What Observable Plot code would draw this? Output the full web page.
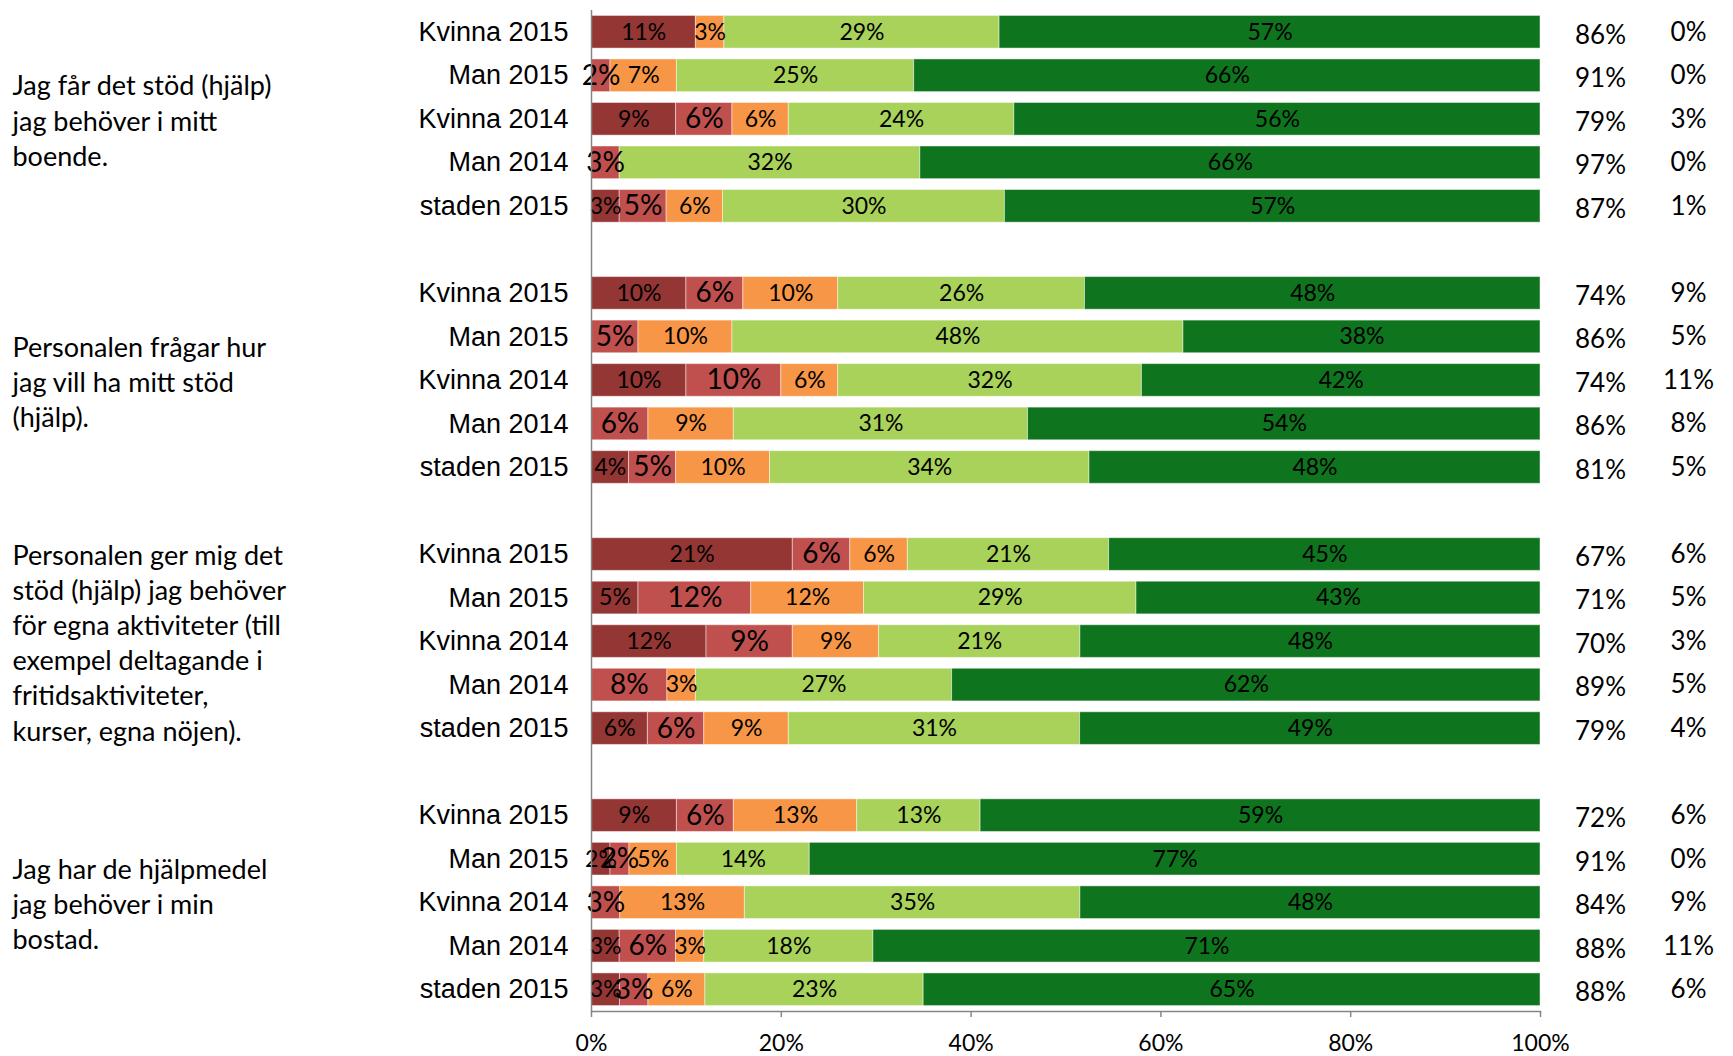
<!DOCTYPE html>
<html><head><meta charset="utf-8">
<script src="https://cdn.jsdelivr.net/npm/d3@7"></script>
<script src="https://cdn.jsdelivr.net/npm/@observablehq/plot@0.6"></script>
<style>body{margin:0;background:#fff}</style>
</head><body><div id="chart"></div>
<script>
const questions = [
  "Jag får det stöd (hjälp)\njag behöver i mitt\nboende.",
  "Personalen frågar hur\njag vill ha mitt stöd\n(hjälp).",
  "Personalen ger mig det\nstöd (hjälp) jag behöver\nför egna aktiviteter (till\nexempel deltagande i\nfritidsaktiviteter,\nkurser, egna nöjen).",
  "Jag har de hjälpmedel\njag behöver i min\nbostad."
];
const respondents = ["Kvinna 2015", "Man 2015", "Kvinna 2014", "Man 2014", "staden 2015"];
const seriesNames = ["Aldrig", "Sällan", "Ibland", "Oftast", "Alltid"];
const seriesColors = ["#943634", "#C0504D", "#F79646", "#A8D25A", "#0F741E"];

// values per row, in order group by group (5 rows each)
const aldrig = [11, 0, 9, 0, 3,   10, 0, 10, 0, 4,    21, 5, 12, 0, 6,   9, 2, 0, 3, 3];
const sallan = [0, 2, 6, 3, 5,    6, 5, 10, 6, 5,     6, 12, 9, 8, 6,    6, 2, 3, 6, 3];
const ibland = [3, 7, 6, 0, 6,    10, 10, 6, 9, 10,   6, 12, 9, 3, 9,    13, 5, 13, 3, 6];
const oftast = [29, 25, 24, 32, 30, 26, 48, 32, 31, 34, 21, 29, 21, 27, 31, 13, 14, 35, 18, 23];
const alltid = [57, 66, 56, 66, 57, 48, 38, 42, 54, 48, 45, 43, 48, 62, 49, 59, 77, 48, 71, 65];
const positiv = [86, 91, 79, 97, 87, 74, 86, 74, 86, 81, 67, 71, 70, 89, 79, 72, 91, 84, 88, 88];
const vetEj   = [0, 0, 3, 0, 1,   9, 5, 11, 8, 5,    6, 5, 3, 5, 4,     6, 0, 9, 11, 6];
const xTicks = [0, 0.2, 0.4, 0.6, 0.8, 1];

const seriesValues = [aldrig, sallan, ibland, oftast, alltid];
const keys = [];
const rows = [];
questions.forEach((q, gi) => {
  if (gi > 0) keys.push("gap" + gi);
  respondents.forEach((r, ri) => {
    const k = gi + "|" + r;
    keys.push(k);
    rows.push({key: k, g: gi, i: gi * 5 + ri});
  });
});
const segs = rows.flatMap(row => seriesNames.map((s, si) => ({
  key: row.key, series: s, si, value: seriesValues[si][row.i]
}))).filter(d => d.value > 0);
const groupRows = questions.map((q, gi) => ({key: gi + "|" + respondents[2], text: q}));

const calibri = "Lato, 'Open Sans', sans-serif";
const stackOpts = {x: "value", y: "key", offset: "normalize"};

const chart = Plot.plot({
  width: 1733,
  height: 1056,
  marginTop: 10,
  marginBottom: 45,
  marginLeft: 591,
  marginRight: 193,
  style: {fontFamily: calibri, background: "#fff"},
  x: {domain: [0, 1], label: null},
  y: {domain: keys, label: null, paddingInner: 0.25, paddingOuter: 0.125, round: false},
  color: {domain: seriesNames, range: seriesColors},
  marks: [
    Plot.barX(segs, Plot.stackX({...stackOpts, fill: "series", stroke: "#fff", strokeOpacity: 0.45, strokeWidth: 1})),
    Plot.text(segs, Plot.stackX({...stackOpts, text: d => d.si === 1 ? null : d.value + "%", fontSize: 23, fill: "#000", fontFamily: calibri})),
    Plot.text(segs, Plot.stackX({...stackOpts, text: d => d.si === 1 ? d.value + "%" : null, fontSize: 28, fill: "#000", fontFamily: calibri})),
    Plot.ruleX([0], {stroke: "#868686", strokeWidth: 1.5}),
    Plot.frame({anchor: "bottom", stroke: "#868686", strokeWidth: 1.5}),
    Plot.axisX({ticks: xTicks, tickFormat: d => Math.round(d * 100) + "%", tickSize: 6, tickPadding: 17, fontSize: 23, stroke: "#868686", strokeWidth: 1.5, label: null, fill: "#000"}),
    Plot.axisY({tickSize: 0, tickPadding: 23, fontSize: 27, fontFamily: "'Liberation Sans', Arial, sans-serif", fill: "#000", label: null,
      tickFormat: d => d.startsWith("gap") ? "" : d.split("|")[1]}),
    Plot.text(rows, {y: "key", text: d => positiv[d.i] + "%", frameAnchor: "right", dx: 60, dy: 3, fontSize: 26, fill: "#000", textAnchor: "middle"}),
    Plot.text(rows, {y: "key", text: d => vetEj[d.i] + "%", frameAnchor: "right", dx: 148, dy: 0, fontSize: 26, fill: "#000", textAnchor: "middle"}),
    Plot.text(groupRows, {y: "key", text: "text", frameAnchor: "left", dx: -579, textAnchor: "start", fontSize: 27, lineHeight: 1.3, fill: "#000"})
  ]
});
document.getElementById("chart").append(chart);
</script>
</body></html>
